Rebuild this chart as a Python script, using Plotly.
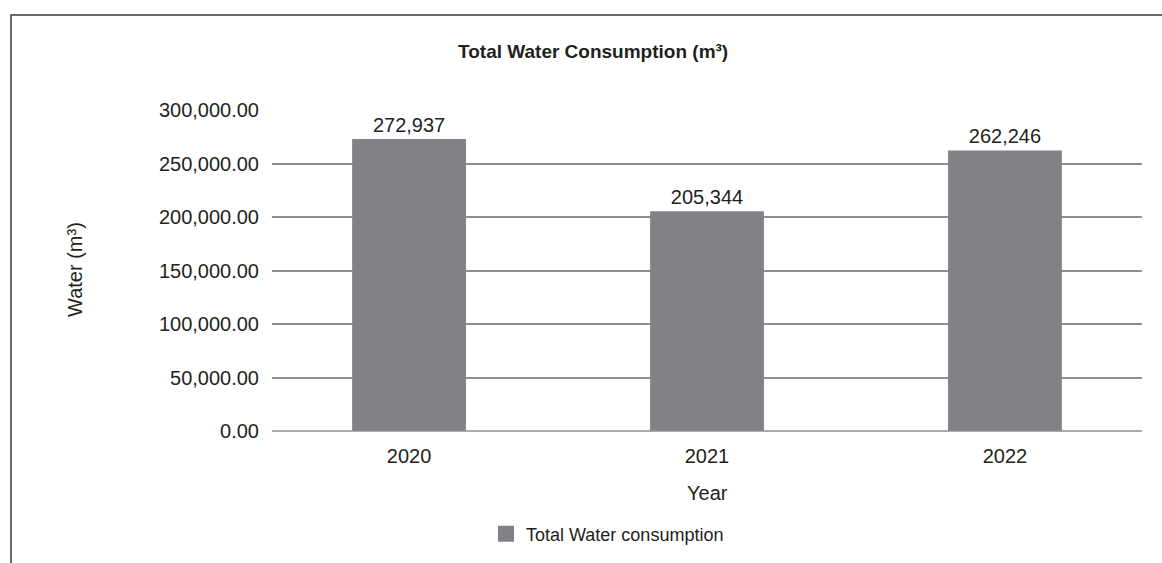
import plotly.graph_objects as go

# Annual water consumption (cubic metres)
years = ["2020", "2021", "2022"]
consumption = [272937, 205344, 262246]
value_labels = ["272,937", "205,344", "262,246"]
y_ticks = [0, 50000, 100000, 150000, 200000, 250000, 300000]
y_tick_labels = ["0.00", "50,000.00", "100,000.00", "150,000.00",
                 "200,000.00", "250,000.00", "300,000.00"]

FONT = "Liberation Sans Narrow, Arial Narrow, sans-serif"
TEXT = "#231f20"
BAR = "#818286"
GRID = "#8e8f92"

W, H = 1162, 563
L, R, T, B = 272, 20, 110, 132
PW, PH = W - L - R, H - T - B


def px_x(x):
    return (x - L) / PW


def px_y(y):
    return (H - B - y) / PH


fig = go.Figure()
fig.add_trace(go.Bar(
    x=years, y=consumption, text=value_labels, textposition="outside",
    textfont=dict(family=FONT, size=20, color=TEXT), cliponaxis=False,
    marker=dict(color=BAR, line=dict(width=0)), width=0.382,
    showlegend=False, hoverinfo="x+y",
))
# legend entry
fig.add_trace(go.Scatter(
    x=[None], y=[None], mode="markers", name="Total Water consumption",
    marker=dict(symbol="square", size=18, color=BAR),
))

fig.update_layout(
    width=W, height=H,
    margin=dict(l=L, r=R, t=T, b=B, autoexpand=False),
    paper_bgcolor="white", plot_bgcolor="white",
    font=dict(family=FONT, size=20, color=TEXT),
    showlegend=True,
    legend=dict(orientation="h", x=px_x(486), y=px_y(534), xanchor="left",
                yanchor="middle", font=dict(family=FONT, size=18, color=TEXT),
                itemwidth=30),
    xaxis=dict(range=[-0.46, 2.46], showgrid=False, zeroline=False,
               showline=False, ticks="", ticklabelstandoff=11,
               tickfont=dict(family=FONT, size=20, color=TEXT)),
    yaxis=dict(range=[0, 300000], tickvals=y_ticks, ticktext=y_tick_labels,
               showgrid=True, gridcolor=GRID, gridwidth=1.5, zeroline=False,
               showline=False, ticks="", ticklabelstandoff=12,
               tickfont=dict(family=FONT, size=20, color=TEXT)),
    shapes=[
        dict(type="line", xref="paper", yref="paper", x0=0, x1=1, y0=0, y1=0,
             line=dict(color=GRID, width=1.5)),
        dict(type="rect", xref="paper", yref="paper",
             x0=px_x(11), x1=px_x(W + 10), y0=px_y(15), y1=px_y(H + 10),
             line=dict(color="#3a3a3a", width=1.5)),
    ],
    annotations=[
        dict(text="<b>Total Water Consumption (m³)</b>", xref="paper",
             yref="paper", x=px_x(593), y=px_y(52), showarrow=False,
             xanchor="center", yanchor="middle",
             font=dict(family=FONT, size=19, color=TEXT)),
        dict(text="Year", xref="paper", yref="paper", x=px_x(707),
             y=px_y(493), showarrow=False, xanchor="center", yanchor="middle",
             font=dict(family=FONT, size=20, color=TEXT)),
        dict(text="Water (m³)", xref="paper", yref="paper", x=px_x(75),
             y=px_y(270), showarrow=False, textangle=-90, xanchor="center",
             yanchor="middle", font=dict(family=FONT, size=20, color=TEXT)),
    ],
)

fig.write_html("out.html")
